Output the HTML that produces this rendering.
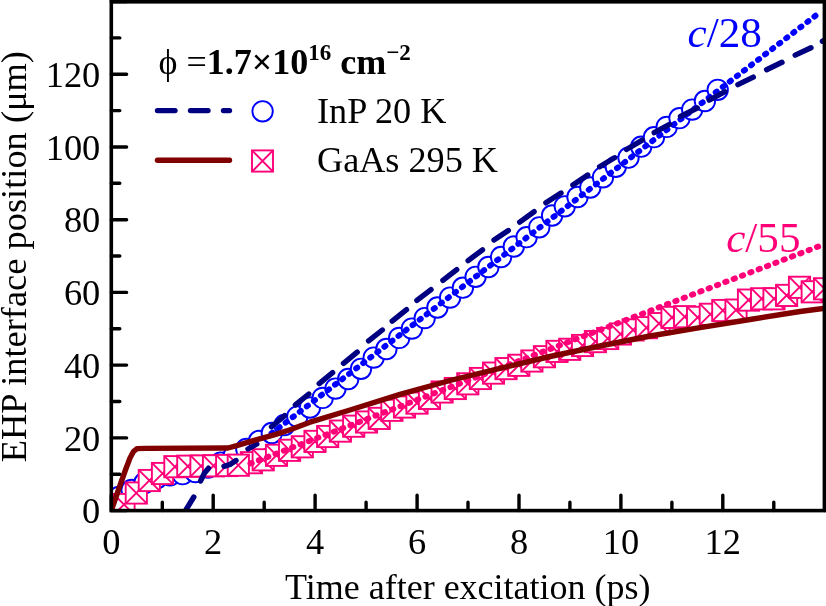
<!DOCTYPE html>
<html><head><meta charset="utf-8"><style>
html,body{margin:0;padding:0;background:#fff;width:826px;height:606px;overflow:hidden}
svg{display:block;will-change:transform}
text{font-family:"Liberation Serif",serif}
</style></head><body>
<svg width="826" height="606" viewBox="0 0 826 606">
<defs><clipPath id="pc"><rect x="111.3" y="1.5" width="713.1" height="509.1"/></clipPath></defs>
<g clip-path="url(#pc)">
<circle cx="118.9" cy="497.0" r="10.2" fill="#fff" stroke="#0000ff" stroke-width="1.9"/>
<circle cx="131.6" cy="490.0" r="10.2" fill="#fff" stroke="#0000ff" stroke-width="1.9"/>
<circle cx="144.4" cy="483.0" r="10.2" fill="#fff" stroke="#0000ff" stroke-width="1.9"/>
<circle cx="157.1" cy="478.0" r="10.2" fill="#fff" stroke="#0000ff" stroke-width="1.9"/>
<circle cx="169.9" cy="475.4" r="10.2" fill="#fff" stroke="#0000ff" stroke-width="1.9"/>
<circle cx="182.6" cy="474.2" r="10.2" fill="#fff" stroke="#0000ff" stroke-width="1.9"/>
<circle cx="195.3" cy="472.0" r="10.2" fill="#fff" stroke="#0000ff" stroke-width="1.9"/>
<circle cx="208.1" cy="467.7" r="10.2" fill="#fff" stroke="#0000ff" stroke-width="1.9"/>
<circle cx="220.8" cy="462.6" r="10.2" fill="#fff" stroke="#0000ff" stroke-width="1.9"/>
<circle cx="233.6" cy="456.0" r="10.2" fill="#fff" stroke="#0000ff" stroke-width="1.9"/>
<circle cx="246.3" cy="449.0" r="10.2" fill="#fff" stroke="#0000ff" stroke-width="1.9"/>
<circle cx="259.0" cy="441.0" r="10.2" fill="#fff" stroke="#0000ff" stroke-width="1.9"/>
<circle cx="271.8" cy="433.0" r="10.2" fill="#fff" stroke="#0000ff" stroke-width="1.9"/>
<circle cx="284.5" cy="425.0" r="10.2" fill="#fff" stroke="#0000ff" stroke-width="1.9"/>
<circle cx="297.3" cy="416.6" r="10.2" fill="#fff" stroke="#0000ff" stroke-width="1.9"/>
<circle cx="310.0" cy="407.5" r="10.2" fill="#fff" stroke="#0000ff" stroke-width="1.9"/>
<circle cx="322.7" cy="397.9" r="10.2" fill="#fff" stroke="#0000ff" stroke-width="1.9"/>
<circle cx="335.5" cy="388.6" r="10.2" fill="#fff" stroke="#0000ff" stroke-width="1.9"/>
<circle cx="348.2" cy="379.0" r="10.2" fill="#fff" stroke="#0000ff" stroke-width="1.9"/>
<circle cx="361.0" cy="368.8" r="10.2" fill="#fff" stroke="#0000ff" stroke-width="1.9"/>
<circle cx="373.7" cy="357.6" r="10.2" fill="#fff" stroke="#0000ff" stroke-width="1.9"/>
<circle cx="386.4" cy="349.0" r="10.2" fill="#fff" stroke="#0000ff" stroke-width="1.9"/>
<circle cx="399.2" cy="337.9" r="10.2" fill="#fff" stroke="#0000ff" stroke-width="1.9"/>
<circle cx="411.9" cy="328.6" r="10.2" fill="#fff" stroke="#0000ff" stroke-width="1.9"/>
<circle cx="424.7" cy="318.1" r="10.2" fill="#fff" stroke="#0000ff" stroke-width="1.9"/>
<circle cx="437.4" cy="307.5" r="10.2" fill="#fff" stroke="#0000ff" stroke-width="1.9"/>
<circle cx="450.1" cy="297.6" r="10.2" fill="#fff" stroke="#0000ff" stroke-width="1.9"/>
<circle cx="462.9" cy="287.7" r="10.2" fill="#fff" stroke="#0000ff" stroke-width="1.9"/>
<circle cx="475.6" cy="276.8" r="10.2" fill="#fff" stroke="#0000ff" stroke-width="1.9"/>
<circle cx="488.4" cy="267.0" r="10.2" fill="#fff" stroke="#0000ff" stroke-width="1.9"/>
<circle cx="501.1" cy="257.0" r="10.2" fill="#fff" stroke="#0000ff" stroke-width="1.9"/>
<circle cx="513.8" cy="246.5" r="10.2" fill="#fff" stroke="#0000ff" stroke-width="1.9"/>
<circle cx="526.6" cy="237.2" r="10.2" fill="#fff" stroke="#0000ff" stroke-width="1.9"/>
<circle cx="539.3" cy="227.3" r="10.2" fill="#fff" stroke="#0000ff" stroke-width="1.9"/>
<circle cx="552.1" cy="215.5" r="10.2" fill="#fff" stroke="#0000ff" stroke-width="1.9"/>
<circle cx="564.8" cy="206.3" r="10.2" fill="#fff" stroke="#0000ff" stroke-width="1.9"/>
<circle cx="577.5" cy="197.0" r="10.2" fill="#fff" stroke="#0000ff" stroke-width="1.9"/>
<circle cx="590.3" cy="187.5" r="10.2" fill="#fff" stroke="#0000ff" stroke-width="1.9"/>
<circle cx="603.0" cy="177.3" r="10.2" fill="#fff" stroke="#0000ff" stroke-width="1.9"/>
<circle cx="615.8" cy="166.8" r="10.2" fill="#fff" stroke="#0000ff" stroke-width="1.9"/>
<circle cx="628.5" cy="157.7" r="10.2" fill="#fff" stroke="#0000ff" stroke-width="1.9"/>
<circle cx="641.2" cy="146.7" r="10.2" fill="#fff" stroke="#0000ff" stroke-width="1.9"/>
<circle cx="654.0" cy="137.2" r="10.2" fill="#fff" stroke="#0000ff" stroke-width="1.9"/>
<circle cx="666.7" cy="126.9" r="10.2" fill="#fff" stroke="#0000ff" stroke-width="1.9"/>
<circle cx="679.5" cy="118.2" r="10.2" fill="#fff" stroke="#0000ff" stroke-width="1.9"/>
<circle cx="692.2" cy="109.6" r="10.2" fill="#fff" stroke="#0000ff" stroke-width="1.9"/>
<circle cx="704.9" cy="101.0" r="10.2" fill="#fff" stroke="#0000ff" stroke-width="1.9"/>
<circle cx="717.7" cy="89.8" r="10.2" fill="#fff" stroke="#0000ff" stroke-width="1.9"/>
<g stroke="#ff0078" stroke-width="1.9" fill="#fff"><rect x="113.4" y="493.9" width="21.2" height="21.2"/><path d="M113.4 493.9L134.6 515.1M113.4 515.1L134.6 493.9" fill="none"/></g>
<g stroke="#ff0078" stroke-width="1.9" fill="#fff"><rect x="125.7" y="482.4" width="21.2" height="21.2"/><path d="M125.7 482.4L146.9 503.6M125.7 503.6L146.9 482.4" fill="none"/></g>
<g stroke="#ff0078" stroke-width="1.9" fill="#fff"><rect x="138.7" y="469.9" width="21.2" height="21.2"/><path d="M138.7 469.9L159.9 491.1M138.7 491.1L159.9 469.9" fill="none"/></g>
<g stroke="#ff0078" stroke-width="1.9" fill="#fff"><rect x="151.9" y="462.9" width="21.2" height="21.2"/><path d="M151.9 462.9L173.1 484.1M151.9 484.1L173.1 462.9" fill="none"/></g>
<g stroke="#ff0078" stroke-width="1.9" fill="#fff"><rect x="164.3" y="456.1" width="21.2" height="21.2"/><path d="M164.3 456.1L185.5 477.3M164.3 477.3L185.5 456.1" fill="none"/></g>
<g stroke="#ff0078" stroke-width="1.9" fill="#fff"><rect x="177.2" y="455.6" width="21.2" height="21.2"/><path d="M177.2 455.6L198.4 476.8M177.2 476.8L198.4 455.6" fill="none"/></g>
<g stroke="#ff0078" stroke-width="1.9" fill="#fff"><rect x="190.4" y="455.4" width="21.2" height="21.2"/><path d="M190.4 455.4L211.6 476.6M190.4 476.6L211.6 455.4" fill="none"/></g>
<g stroke="#ff0078" stroke-width="1.9" fill="#fff"><rect x="202.9" y="455.2" width="21.2" height="21.2"/><path d="M202.9 455.2L224.1 476.4M202.9 476.4L224.1 455.2" fill="none"/></g>
<g stroke="#ff0078" stroke-width="1.9" fill="#fff"><rect x="216.1" y="454.9" width="21.2" height="21.2"/><path d="M216.1 454.9L237.3 476.1M216.1 476.1L237.3 454.9" fill="none"/></g>
<g stroke="#ff0078" stroke-width="1.9" fill="#fff"><rect x="240.8" y="452.1" width="21.2" height="21.2"/><path d="M240.8 452.1L262.0 473.3M240.8 473.3L262.0 452.1" fill="none"/></g>
<g stroke="#ff0078" stroke-width="1.9" fill="#fff"><rect x="227.7" y="454.6" width="21.2" height="21.2"/><path d="M227.7 454.6L248.9 475.8M227.7 475.8L248.9 454.6" fill="none"/></g>
<g stroke="#ff0078" stroke-width="1.9" fill="#fff"><rect x="252.6" y="449.2" width="21.2" height="21.2"/><path d="M252.6 449.2L273.8 470.4M252.6 470.4L273.8 449.2" fill="none"/></g>
<g stroke="#ff0078" stroke-width="1.9" fill="#fff"><rect x="265.9" y="444.7" width="21.2" height="21.2"/><path d="M265.9 444.7L287.1 465.9M265.9 465.9L287.1 444.7" fill="none"/></g>
<g stroke="#ff0078" stroke-width="1.9" fill="#fff"><rect x="279.0" y="439.7" width="21.2" height="21.2"/><path d="M279.0 439.7L300.2 460.9M279.0 460.9L300.2 439.7" fill="none"/></g>
<g stroke="#ff0078" stroke-width="1.9" fill="#fff"><rect x="291.7" y="436.2" width="21.2" height="21.2"/><path d="M291.7 436.2L312.9 457.4M291.7 457.4L312.9 436.2" fill="none"/></g>
<g stroke="#ff0078" stroke-width="1.9" fill="#fff"><rect x="304.4" y="430.8" width="21.2" height="21.2"/><path d="M304.4 430.8L325.6 452.0M304.4 452.0L325.6 430.8" fill="none"/></g>
<g stroke="#ff0078" stroke-width="1.9" fill="#fff"><rect x="317.1" y="425.9" width="21.2" height="21.2"/><path d="M317.1 425.9L338.3 447.1M317.1 447.1L338.3 425.9" fill="none"/></g>
<g stroke="#ff0078" stroke-width="1.9" fill="#fff"><rect x="329.8" y="420.5" width="21.2" height="21.2"/><path d="M329.8 420.5L351.0 441.7M329.8 441.7L351.0 420.5" fill="none"/></g>
<g stroke="#ff0078" stroke-width="1.9" fill="#fff"><rect x="343.1" y="415.6" width="21.2" height="21.2"/><path d="M343.1 415.6L364.3 436.8M343.1 436.8L364.3 415.6" fill="none"/></g>
<g stroke="#ff0078" stroke-width="1.9" fill="#fff"><rect x="355.9" y="411.4" width="21.2" height="21.2"/><path d="M355.9 411.4L377.1 432.6M355.9 432.6L377.1 411.4" fill="none"/></g>
<g stroke="#ff0078" stroke-width="1.9" fill="#fff"><rect x="368.6" y="407.8" width="21.2" height="21.2"/><path d="M368.6 407.8L389.8 429.0M368.6 429.0L389.8 407.8" fill="none"/></g>
<g stroke="#ff0078" stroke-width="1.9" fill="#fff"><rect x="381.3" y="399.7" width="21.2" height="21.2"/><path d="M381.3 399.7L402.5 420.9M381.3 420.9L402.5 399.7" fill="none"/></g>
<g stroke="#ff0078" stroke-width="1.9" fill="#fff"><rect x="393.9" y="396.4" width="21.2" height="21.2"/><path d="M393.9 396.4L415.1 417.6M393.9 417.6L415.1 396.4" fill="none"/></g>
<g stroke="#ff0078" stroke-width="1.9" fill="#fff"><rect x="406.4" y="392.5" width="21.2" height="21.2"/><path d="M406.4 392.5L427.6 413.7M406.4 413.7L427.6 392.5" fill="none"/></g>
<g stroke="#ff0078" stroke-width="1.9" fill="#fff"><rect x="418.9" y="387.8" width="21.2" height="21.2"/><path d="M418.9 387.8L440.1 409.0M418.9 409.0L440.1 387.8" fill="none"/></g>
<g stroke="#ff0078" stroke-width="1.9" fill="#fff"><rect x="431.5" y="381.4" width="21.2" height="21.2"/><path d="M431.5 381.4L452.7 402.6M431.5 402.6L452.7 381.4" fill="none"/></g>
<g stroke="#ff0078" stroke-width="1.9" fill="#fff"><rect x="444.7" y="377.9" width="21.2" height="21.2"/><path d="M444.7 377.9L465.9 399.1M444.7 399.1L465.9 377.9" fill="none"/></g>
<g stroke="#ff0078" stroke-width="1.9" fill="#fff"><rect x="457.2" y="373.2" width="21.2" height="21.2"/><path d="M457.2 373.2L478.4 394.4M457.2 394.4L478.4 373.2" fill="none"/></g>
<g stroke="#ff0078" stroke-width="1.9" fill="#fff"><rect x="469.8" y="367.9" width="21.2" height="21.2"/><path d="M469.8 367.9L491.0 389.1M469.8 389.1L491.0 367.9" fill="none"/></g>
<g stroke="#ff0078" stroke-width="1.9" fill="#fff"><rect x="482.9" y="362.5" width="21.2" height="21.2"/><path d="M482.9 362.5L504.1 383.7M482.9 383.7L504.1 362.5" fill="none"/></g>
<g stroke="#ff0078" stroke-width="1.9" fill="#fff"><rect x="495.4" y="358.0" width="21.2" height="21.2"/><path d="M495.4 358.0L516.6 379.2M495.4 379.2L516.6 358.0" fill="none"/></g>
<g stroke="#ff0078" stroke-width="1.9" fill="#fff"><rect x="508.2" y="354.7" width="21.2" height="21.2"/><path d="M508.2 354.7L529.4 375.9M508.2 375.9L529.4 354.7" fill="none"/></g>
<g stroke="#ff0078" stroke-width="1.9" fill="#fff"><rect x="521.3" y="350.4" width="21.2" height="21.2"/><path d="M521.3 350.4L542.5 371.6M521.3 371.6L542.5 350.4" fill="none"/></g>
<g stroke="#ff0078" stroke-width="1.9" fill="#fff"><rect x="533.8" y="346.1" width="21.2" height="21.2"/><path d="M533.8 346.1L555.0 367.3M533.8 367.3L555.0 346.1" fill="none"/></g>
<g stroke="#ff0078" stroke-width="1.9" fill="#fff"><rect x="546.4" y="340.8" width="21.2" height="21.2"/><path d="M546.4 340.8L567.6 362.0M546.4 362.0L567.6 340.8" fill="none"/></g>
<g stroke="#ff0078" stroke-width="1.9" fill="#fff"><rect x="559.1" y="338.7" width="21.2" height="21.2"/><path d="M559.1 338.7L580.3 359.9M559.1 359.9L580.3 338.7" fill="none"/></g>
<g stroke="#ff0078" stroke-width="1.9" fill="#fff"><rect x="571.9" y="334.9" width="21.2" height="21.2"/><path d="M571.9 334.9L593.1 356.1M571.9 356.1L593.1 334.9" fill="none"/></g>
<g stroke="#ff0078" stroke-width="1.9" fill="#fff"><rect x="584.8" y="331.0" width="21.2" height="21.2"/><path d="M584.8 331.0L606.0 352.2M584.8 352.2L606.0 331.0" fill="none"/></g>
<g stroke="#ff0078" stroke-width="1.9" fill="#fff"><rect x="597.1" y="327.9" width="21.2" height="21.2"/><path d="M597.1 327.9L618.3 349.1M597.1 349.1L618.3 327.9" fill="none"/></g>
<g stroke="#ff0078" stroke-width="1.9" fill="#fff"><rect x="609.8" y="323.4" width="21.2" height="21.2"/><path d="M609.8 323.4L631.0 344.6M609.8 344.6L631.0 323.4" fill="none"/></g>
<g stroke="#ff0078" stroke-width="1.9" fill="#fff"><rect x="622.5" y="319.3" width="21.2" height="21.2"/><path d="M622.5 319.3L643.7 340.5M622.5 340.5L643.7 319.3" fill="none"/></g>
<g stroke="#ff0078" stroke-width="1.9" fill="#fff"><rect x="635.8" y="317.1" width="21.2" height="21.2"/><path d="M635.8 317.1L657.0 338.3M635.8 338.3L657.0 317.1" fill="none"/></g>
<g stroke="#ff0078" stroke-width="1.9" fill="#fff"><rect x="648.4" y="313.0" width="21.2" height="21.2"/><path d="M648.4 313.0L669.6 334.2M648.4 334.2L669.6 313.0" fill="none"/></g>
<g stroke="#ff0078" stroke-width="1.9" fill="#fff"><rect x="661.4" y="306.8" width="21.2" height="21.2"/><path d="M661.4 306.8L682.6 328.0M661.4 328.0L682.6 306.8" fill="none"/></g>
<g stroke="#ff0078" stroke-width="1.9" fill="#fff"><rect x="674.0" y="306.1" width="21.2" height="21.2"/><path d="M674.0 306.1L695.2 327.3M674.0 327.3L695.2 306.1" fill="none"/></g>
<g stroke="#ff0078" stroke-width="1.9" fill="#fff"><rect x="687.0" y="306.8" width="21.2" height="21.2"/><path d="M687.0 306.8L708.2 328.0M687.0 328.0L708.2 306.8" fill="none"/></g>
<g stroke="#ff0078" stroke-width="1.9" fill="#fff"><rect x="699.7" y="303.7" width="21.2" height="21.2"/><path d="M699.7 303.7L720.9 324.9M699.7 324.9L720.9 303.7" fill="none"/></g>
<g stroke="#ff0078" stroke-width="1.9" fill="#fff"><rect x="712.2" y="299.9" width="21.2" height="21.2"/><path d="M712.2 299.9L733.4 321.1M712.2 321.1L733.4 299.9" fill="none"/></g>
<g stroke="#ff0078" stroke-width="1.9" fill="#fff"><rect x="725.4" y="299.5" width="21.2" height="21.2"/><path d="M725.4 299.5L746.6 320.7M725.4 320.7L746.6 299.5" fill="none"/></g>
<g stroke="#ff0078" stroke-width="1.9" fill="#fff"><rect x="737.9" y="289.5" width="21.2" height="21.2"/><path d="M737.9 289.5L759.1 310.7M737.9 310.7L759.1 289.5" fill="none"/></g>
<g stroke="#ff0078" stroke-width="1.9" fill="#fff"><rect x="751.0" y="288.2" width="21.2" height="21.2"/><path d="M751.0 288.2L772.2 309.4M751.0 309.4L772.2 288.2" fill="none"/></g>
<g stroke="#ff0078" stroke-width="1.9" fill="#fff"><rect x="763.4" y="288.2" width="21.2" height="21.2"/><path d="M763.4 288.2L784.6 309.4M763.4 309.4L784.6 288.2" fill="none"/></g>
<g stroke="#ff0078" stroke-width="1.9" fill="#fff"><rect x="776.0" y="284.8" width="21.2" height="21.2"/><path d="M776.0 284.8L797.2 306.0M776.0 306.0L797.2 284.8" fill="none"/></g>
<g stroke="#ff0078" stroke-width="1.9" fill="#fff"><rect x="788.9" y="276.7" width="21.2" height="21.2"/><path d="M788.9 276.7L810.1 297.9M788.9 297.9L810.1 276.7" fill="none"/></g>
<g stroke="#ff0078" stroke-width="1.9" fill="#fff"><rect x="801.6" y="281.2" width="21.2" height="21.2"/><path d="M801.6 281.2L822.8 302.4M801.6 302.4L822.8 281.2" fill="none"/></g>
<g stroke="#ff0078" stroke-width="1.9" fill="#fff"><rect x="813.9" y="278.2" width="21.2" height="21.2"/><path d="M813.9 278.2L835.1 299.4M813.9 299.4L835.1 278.2" fill="none"/></g>
<path d="M250.44 463.54L251.74 463.04M258.77 460.35L260.07 459.85M267.10 457.17L268.40 456.67M275.43 453.98L276.73 453.48M283.76 450.80L285.06 450.30M292.09 447.62L293.39 447.12M300.42 444.43L301.72 443.93M308.75 441.25L310.05 440.75M317.08 438.07L318.38 437.57M325.41 434.88L326.71 434.38M333.74 431.70L335.04 431.20M342.07 428.52L343.37 428.02M350.40 425.33L351.70 424.83M358.73 422.15L360.03 421.65M367.06 418.96L368.36 418.46M375.39 415.78L376.69 415.28M383.72 412.60L385.02 412.10M392.05 409.41L393.35 408.91M400.38 406.23L401.68 405.73M408.71 403.05L410.01 402.55M417.04 399.86L418.34 399.36M425.37 396.68L426.67 396.18M433.70 393.49L435.00 392.99M442.03 390.31L443.33 389.81M450.36 387.13L451.66 386.63M458.69 383.94L459.99 383.44M467.02 380.76L468.32 380.26M475.35 377.58L476.65 377.08M483.68 374.39L484.98 373.89M492.01 371.21L493.31 370.71M500.34 368.02L501.64 367.52M508.67 364.84L509.97 364.34M517.00 361.66L518.30 361.16M525.33 358.47L526.63 357.97M533.66 355.29L534.96 354.79M541.99 352.11L543.29 351.61M550.32 348.92L551.62 348.42M558.65 345.74L559.95 345.24M566.98 342.55L568.28 342.05M575.31 339.37L576.61 338.87M583.64 336.19L584.94 335.69M591.97 333.00L593.27 332.50M600.30 329.82L601.60 329.32M608.63 326.64L609.93 326.14M616.96 323.45L618.26 322.95M625.29 320.27L626.59 319.77M633.62 317.08L634.92 316.58M641.95 313.90L643.25 313.40M650.28 310.72L651.58 310.22M658.61 307.53L659.91 307.03M666.94 304.35L668.24 303.85M675.27 301.17L676.57 300.67M683.60 297.98L684.90 297.48M691.93 294.80L693.23 294.30M700.26 291.61L701.56 291.11M708.59 288.43L709.89 287.93M716.92 285.25L718.22 284.75M725.25 282.06L726.55 281.56M733.58 278.88L734.88 278.38M741.91 275.70L743.21 275.20M750.24 272.51L751.54 272.01M758.57 269.33L759.87 268.83M766.90 266.14L768.20 265.65M775.23 262.96L776.53 262.46M783.56 259.78L784.86 259.28M791.89 256.59L793.19 256.09M800.22 253.41L801.52 252.91M808.55 250.23L809.85 249.73M816.88 247.04L818.18 246.54" stroke="#ff0078" stroke-width="5.9" stroke-linecap="round"/>
<path d="M271.54 433.43L272.66 432.57M278.59 428.01L279.71 427.16M285.64 422.60L286.76 421.75M292.69 417.19L293.81 416.33M299.74 411.77L300.86 410.92M306.79 406.36L307.91 405.51M313.84 400.94L314.96 400.09M320.89 395.53L322.01 394.68M327.94 390.12L329.06 389.26M334.99 384.70L336.11 383.85M342.04 379.29L343.16 378.44M349.09 373.88L350.21 373.02M356.14 368.46L357.26 367.61M363.19 363.05L364.31 362.20M370.24 357.64L371.36 356.78M377.29 352.22L378.41 351.37M384.34 346.81L385.46 345.96M391.39 341.39L392.51 340.54M398.44 335.98L399.56 335.13M405.49 330.57L406.61 329.71M412.54 325.15L413.66 324.30M419.59 319.74L420.71 318.89M426.64 314.33L427.76 313.47M433.69 308.91L434.81 308.06M440.74 303.50L441.86 302.65M447.79 298.08L448.91 297.23M454.84 292.67L455.96 291.82M461.89 287.26L463.01 286.40M468.94 281.84L470.06 280.99M475.99 276.43L477.11 275.58M483.04 271.02L484.16 270.16M490.09 265.60L491.21 264.75M497.14 260.19L498.26 259.34M504.19 254.77L505.31 253.92M511.24 249.36L512.36 248.51M518.29 243.95L519.41 243.09M525.34 238.53L526.46 237.68M532.39 233.12L533.51 232.27M539.44 227.71L540.56 226.85M546.49 222.29L547.61 221.44M553.54 216.88L554.66 216.03M560.59 211.47L561.71 210.61M567.64 206.05L568.76 205.20M574.69 200.64L575.81 199.79M581.74 195.22L582.86 194.37M588.79 189.81L589.91 188.96M595.84 184.40L596.96 183.54M602.89 178.98L604.01 178.13M609.94 173.57L611.06 172.72M616.99 168.16L618.11 167.30M624.04 162.74L625.16 161.89M631.09 157.33L632.21 156.48M638.14 151.91L639.26 151.06M645.19 146.50L646.31 145.65M652.24 141.09L653.36 140.23M659.29 135.67L660.41 134.82M666.34 130.26L667.46 129.41M673.39 124.85L674.51 123.99M680.44 119.43L681.56 118.58M687.49 114.02L688.61 113.17M694.54 108.61L695.66 107.75M701.59 103.19L702.71 102.34M708.64 97.78L709.76 96.93M715.69 92.36L716.81 91.51M722.74 86.95L723.86 86.10M729.79 81.54L730.91 80.68M736.84 76.12L737.96 75.27M743.89 70.71L745.01 69.86M750.94 65.30L752.06 64.44M757.99 59.88L759.11 59.03M765.04 54.47L766.16 53.62M772.09 49.05L773.21 48.20M779.14 43.64L780.26 42.79M786.19 38.23L787.31 37.37M793.24 32.81L794.36 31.96M800.29 27.40L801.41 26.55M807.34 21.99L808.46 21.13M814.39 16.57L815.51 15.72" stroke="#0000ff" stroke-width="5.9" stroke-linecap="round"/>
<polyline points="184.0,513.0 193.8,497.0" fill="none" stroke="#000080" stroke-width="5.4" stroke-linecap="round" stroke-linejoin="round"/>
<polyline points="200.5,481.0 204.5,473.0 208.5,468.2" fill="none" stroke="#000080" stroke-width="5.4" stroke-linecap="round" stroke-linejoin="round"/>
<polyline points="224.0,466.3 230.0,464.5 236.0,460.5" fill="none" stroke="#000080" stroke-width="5.4" stroke-linecap="round" stroke-linejoin="round"/>
<polyline points="248.0,449.0 256.8,444.0" fill="none" stroke="#000080" stroke-width="5.4" stroke-linecap="round" stroke-linejoin="round"/>
<polyline points="271.5,426.8 284.7,415.6" fill="none" stroke="#000080" stroke-width="5.4" stroke-linecap="round" stroke-linejoin="round"/>
<polyline points="295.4,404.9 308.8,394.0" fill="none" stroke="#000080" stroke-width="5.4" stroke-linecap="round" stroke-linejoin="round"/>
<polyline points="319.2,383.6 332.6,372.7" fill="none" stroke="#000080" stroke-width="5.4" stroke-linecap="round" stroke-linejoin="round"/>
<polyline points="343.5,363.3 357.2,352.2" fill="none" stroke="#000080" stroke-width="5.4" stroke-linecap="round" stroke-linejoin="round"/>
<polyline points="368.6,340.8 382.3,330.0" fill="none" stroke="#000080" stroke-width="5.4" stroke-linecap="round" stroke-linejoin="round"/>
<polyline points="392.2,321.1 406.5,309.7" fill="none" stroke="#000080" stroke-width="5.4" stroke-linecap="round" stroke-linejoin="round"/>
<polyline points="416.9,300.3 431.0,289.6" fill="none" stroke="#000080" stroke-width="5.4" stroke-linecap="round" stroke-linejoin="round"/>
<polyline points="442.9,280.4 456.7,269.6" fill="none" stroke="#000080" stroke-width="5.4" stroke-linecap="round" stroke-linejoin="round"/>
<polyline points="468.1,260.6 482.5,249.8" fill="none" stroke="#000080" stroke-width="5.4" stroke-linecap="round" stroke-linejoin="round"/>
<polyline points="494.0,240.0 508.3,230.5" fill="none" stroke="#000080" stroke-width="5.4" stroke-linecap="round" stroke-linejoin="round"/>
<polyline points="519.7,222.1 534.1,211.7" fill="none" stroke="#000080" stroke-width="5.4" stroke-linecap="round" stroke-linejoin="round"/>
<polyline points="545.9,202.8 561.0,193.0" fill="none" stroke="#000080" stroke-width="5.4" stroke-linecap="round" stroke-linejoin="round"/>
<polyline points="572.9,185.0 587.7,175.1" fill="none" stroke="#000080" stroke-width="5.4" stroke-linecap="round" stroke-linejoin="round"/>
<polyline points="599.6,166.7 614.5,157.8" fill="none" stroke="#000080" stroke-width="5.4" stroke-linecap="round" stroke-linejoin="round"/>
<polyline points="626.4,149.5 642.3,140.1" fill="none" stroke="#000080" stroke-width="5.4" stroke-linecap="round" stroke-linejoin="round"/>
<polyline points="654.2,132.7 669.5,124.3" fill="none" stroke="#000080" stroke-width="5.4" stroke-linecap="round" stroke-linejoin="round"/>
<polyline points="680.5,116.4 697.3,108.0" fill="none" stroke="#000080" stroke-width="5.4" stroke-linecap="round" stroke-linejoin="round"/>
<polyline points="709.2,100.1 725.0,91.7" fill="none" stroke="#000080" stroke-width="5.4" stroke-linecap="round" stroke-linejoin="round"/>
<polyline points="737.9,84.6 753.3,77.1" fill="none" stroke="#000080" stroke-width="5.4" stroke-linecap="round" stroke-linejoin="round"/>
<polyline points="766.6,69.7 782.0,62.3" fill="none" stroke="#000080" stroke-width="5.4" stroke-linecap="round" stroke-linejoin="round"/>
<polyline points="795.2,55.1 811.0,47.7" fill="none" stroke="#000080" stroke-width="5.4" stroke-linecap="round" stroke-linejoin="round"/>
<polyline points="822.4,41.3 838.0,34.0" fill="none" stroke="#000080" stroke-width="5.4" stroke-linecap="round" stroke-linejoin="round"/>
<polyline points="111.3,510.6 116.0,497.0 121.0,482.5 126.0,468.5 130.0,458.0 133.5,451.5 137.0,448.6 145.0,448.4 228.0,448.0 236.0,445.8 245.0,443.2 255.0,440.2 265.0,437.4 275.0,434.6 290.0,429.8 310.0,422.2 320.0,419.1 350.0,410.0 400.0,394.4 450.0,380.5 500.0,368.4 550.0,356.5 600.0,346.0 650.0,336.0 700.0,327.6 750.0,319.5 800.0,311.5 830.0,307.5" fill="none" stroke="#800000" stroke-width="5.4" stroke-linecap="round" stroke-linejoin="round"/>
</g>
<rect x="111.3" y="1.8" width="713.1" height="508.8" fill="none" stroke="#000" stroke-width="3.6"/>
<path d="M111.3 510.6V495.3M162.3 510.6V502.3M213.2 510.6V495.3M264.2 510.6V502.3M315.1 510.6V495.3M366.1 510.6V502.3M417.1 510.6V495.3M468.0 510.6V502.3M519.0 510.6V495.3M569.9 510.6V502.3M620.9 510.6V495.3M671.9 510.6V502.3M722.8 510.6V495.3M773.8 510.6V502.3M824.7 510.6V495.3M111.3 510.6H126.6M111.3 474.2H119.8M111.3 437.9H126.6M111.3 401.5H119.8M111.3 365.1H126.6M111.3 328.8H119.8M111.3 292.4H126.6M111.3 256.0H119.8M111.3 219.7H126.6M111.3 183.3H119.8M111.3 147.0H126.6M111.3 110.6H119.8M111.3 74.2H126.6M111.3 37.9H119.8M111.3 1.5H126.6" stroke="#000" stroke-width="3.4" stroke-linecap="round" fill="none"/>
<text x="111.3" y="554" font-family="Liberation Serif, serif" font-size="36.4" text-anchor="middle">0</text>
<text x="213.2" y="554" font-family="Liberation Serif, serif" font-size="36.4" text-anchor="middle">2</text>
<text x="315.1" y="554" font-family="Liberation Serif, serif" font-size="36.4" text-anchor="middle">4</text>
<text x="417.1" y="554" font-family="Liberation Serif, serif" font-size="36.4" text-anchor="middle">6</text>
<text x="519.0" y="554" font-family="Liberation Serif, serif" font-size="36.4" text-anchor="middle">8</text>
<text x="620.9" y="554" font-family="Liberation Serif, serif" font-size="36.4" text-anchor="middle">10</text>
<text x="722.8" y="554" font-family="Liberation Serif, serif" font-size="36.4" text-anchor="middle">12</text>
<text x="100.3" y="523.2" font-family="Liberation Serif, serif" font-size="36.4" text-anchor="end">0</text>
<text x="100.3" y="450.5" font-family="Liberation Serif, serif" font-size="36.4" text-anchor="end">20</text>
<text x="100.3" y="377.7" font-family="Liberation Serif, serif" font-size="36.4" text-anchor="end">40</text>
<text x="100.3" y="305.0" font-family="Liberation Serif, serif" font-size="36.4" text-anchor="end">60</text>
<text x="100.3" y="232.3" font-family="Liberation Serif, serif" font-size="36.4" text-anchor="end">80</text>
<text x="100.3" y="159.6" font-family="Liberation Serif, serif" font-size="36.4" text-anchor="end">100</text>
<text x="100.3" y="86.8" font-family="Liberation Serif, serif" font-size="36.4" text-anchor="end">120</text>
<text x="467.8" y="598.7" font-family="Liberation Serif, serif" font-size="36" text-anchor="middle">Time after excitation (ps)</text>
<text transform="translate(25.6 256.7) rotate(-90)" x="0" y="0" font-family="Liberation Serif, serif" font-size="36.4" text-anchor="middle">EHP interface position (μm)</text>
<text x="158.5" y="73.6" font-family="Liberation Serif, serif" font-size="36">ϕ =<tspan font-weight="bold">1.7×10</tspan><tspan font-weight="bold" font-size="23" dy="-14">16</tspan><tspan font-weight="bold" dy="14"> cm</tspan><tspan font-weight="bold" font-size="23" dy="-14">−2</tspan></text>
<line x1="157.5" y1="110.6" x2="229.5" y2="110.6" stroke="#000080" stroke-width="5.4" stroke-linecap="round" stroke-dasharray="17.5 15.5"/>
<circle cx="262.6" cy="111.3" r="10.2" fill="none" stroke="#0000ff" stroke-width="1.9"/>
<line x1="157.5" y1="160.2" x2="229.5" y2="160.2" stroke="#800000" stroke-width="5.4" stroke-linecap="round"/>
<g stroke="#ff0078" stroke-width="1.9" fill="none"><rect x="252" y="150.4" width="21" height="21.2"/><path d="M252 150.4L273 171.6M252 171.6L273 150.4"/></g>
<text x="317" y="123.2" font-family="Liberation Serif, serif" font-size="36.2">InP 20 K</text>
<text x="317" y="172.3" font-family="Liberation Serif, serif" font-size="36.2">GaAs 295 K</text>
<text x="687.5" y="46.6" font-family="Liberation Serif, serif" font-size="43.2" fill="#0000ff"><tspan font-style="italic">c</tspan>/28</text>
<text x="726.2" y="252.3" font-family="Liberation Serif, serif" font-size="43.2" fill="#ff0078"><tspan font-style="italic">c</tspan>/55</text>
</svg>
</body></html>
